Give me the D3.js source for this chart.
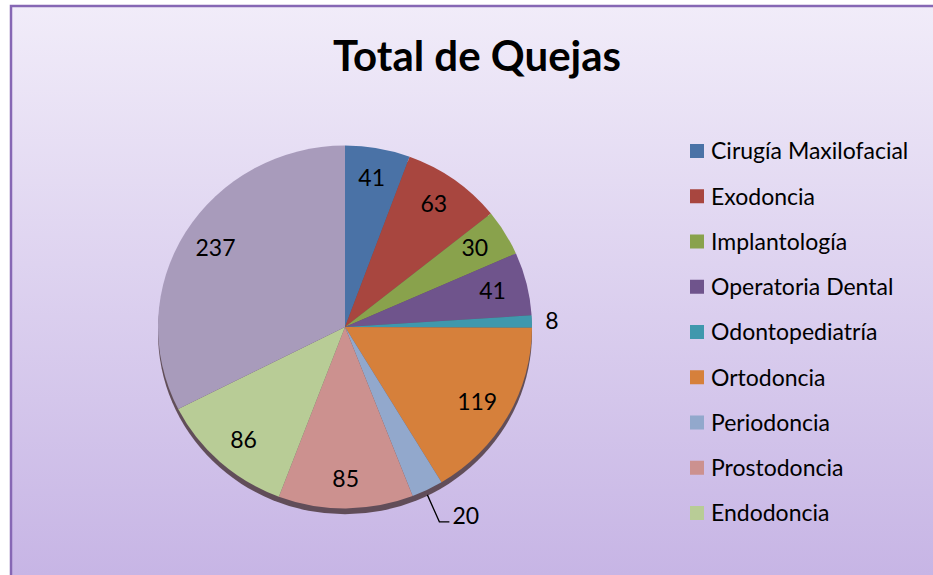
<!DOCTYPE html>
<html lang="es">
<head>
<meta charset="UTF-8">
<script src="https://d3js.org/d3.v7.min.js"></script>
<title>Total de Quejas</title>
<style>
  body { margin: 0; background: #fff; }
  text { font-family: Lato, "Open Sans", sans-serif; }
</style>
</head>
<body>
<script>
// data, clockwise from 12 o'clock
var categories = ["Cirugía Maxilofacial", "Exodoncia", "Implantología", "Operatoria Dental",
  "Odontopediatría", "Ortodoncia", "Periodoncia", "Prostodoncia", "Endodoncia"];
var values = [41, 63, 30, 41, 8, 119, 20, 85, 86, 237];
var colors = ["#4a72a6", "#a8463f", "#89a24c", "#6f548c", "#3f98ad",
  "#d6803b", "#92a8cc", "#cc918f", "#b8cc96", "#a89bbb"];
var title = "Total de Quejas";

var width = 933, height = 575;
var cx = 345, cy = 327, r = 187;

var svg = d3.select("body").append("svg")
  .attr("width", width)
  .attr("height", height);

var defs = svg.append("defs");
var bg = defs.append("linearGradient").attr("id", "bg")
  .attr("gradientUnits", "userSpaceOnUse")
  .attr("x1", 0).attr("y1", 6).attr("x2", 0).attr("y2", height);
bg.append("stop").attr("offset", "0%").attr("stop-color", "#f1ecf9");
bg.append("stop").attr("offset", "100%").attr("stop-color", "#c7b5e5");

svg.append("rect")
  .attr("x", 11).attr("y", 6)
  .attr("width", 1000).attr("height", 1000)
  .attr("fill", "url(#bg)")
  .attr("stroke", "#8667b4")
  .attr("stroke-width", 2.5);

svg.append("text")
  .attr("x", 477).attr("y", 71)
  .attr("text-anchor", "middle")
  .attr("font-size", 42)
  .attr("font-weight", "bold")
  .attr("fill", "#000")
  .text(title);

var pie = d3.pie().sort(null).value(function (d) { return d; });
var arcs = pie(values);
var total = d3.sum(values);

var arc = d3.arc().innerRadius(0).outerRadius(r);
var labelArc = d3.arc().innerRadius(152).outerRadius(152);
var outArc = d3.arc().innerRadius(207).outerRadius(207);
var edgeArc = d3.arc().innerRadius(r).outerRadius(r);

var g = svg.append("g")
  .attr("transform", "translate(" + cx + "," + cy + ") scale(1,0.97)");

// slight 3D rim at the bottom
g.append("circle")
  .attr("cx", 0).attr("cy", 6).attr("r", r)
  .attr("fill", "#4e3a40")
  .attr("opacity", 0.85);

g.selectAll("path.slice")
  .data(arcs)
  .enter()
  .append("path")
  .attr("class", "slice")
  .attr("fill", function (d, i) { return colors[i]; })
  .attr("d", arc);

var lg = svg.append("g").attr("transform", "translate(" + cx + "," + cy + ")");

arcs.forEach(function (d, i) {
  var small = d.value / total < 0.03;
  var mid = (d.startAngle + d.endAngle) / 2;
  if (!small) {
    var p = labelArc.centroid(d);
    lg.append("text")
      .attr("x", p[0]).attr("y", p[1])
      .attr("dy", "0.36em")
      .attr("text-anchor", "middle")
      .attr("font-size", 23)
      .text(d.value);
  } else if (mid < Math.PI / 2 + 0.1) {
    var q = outArc.centroid(d);
    lg.append("text")
      .attr("x", q[0]).attr("y", q[1])
      .attr("dy", "0.36em")
      .attr("text-anchor", "middle")
      .attr("font-size", 23)
      .text(d.value);
  } else {
    // label pushed below the pie with a leader line
    var e = edgeArc.centroid(d);
    var elbow = [e[0] + 12, e[1] + 27];
    lg.append("path")
      .attr("d", d3.line()([e, elbow, [elbow[0] + 10, elbow[1]]]))
      .attr("fill", "none")
      .attr("stroke", "#000")
      .attr("stroke-width", 1.3);
    lg.append("text")
      .attr("x", elbow[0] + 13).attr("y", elbow[1] - 6)
      .attr("dy", "0.36em")
      .attr("font-size", 23)
      .text(d.value);
  }
});

var legendY = d3.scalePoint()
  .domain(categories)
  .range([151, 513]);

var legend = svg.selectAll("g.legend")
  .data(categories)
  .enter()
  .append("g")
  .attr("class", "legend")
  .attr("transform", function (d) { return "translate(690," + legendY(d) + ")"; });

legend.append("rect")
  .attr("x", 0).attr("y", -7)
  .attr("width", 14).attr("height", 14)
  .attr("fill", function (d, i) { return colors[i]; });

legend.append("text")
  .attr("x", 21).attr("y", 0)
  .attr("dy", "0.36em")
  .attr("font-size", 23)
  .text(function (d) { return d; });
</script>
</body>
</html>
